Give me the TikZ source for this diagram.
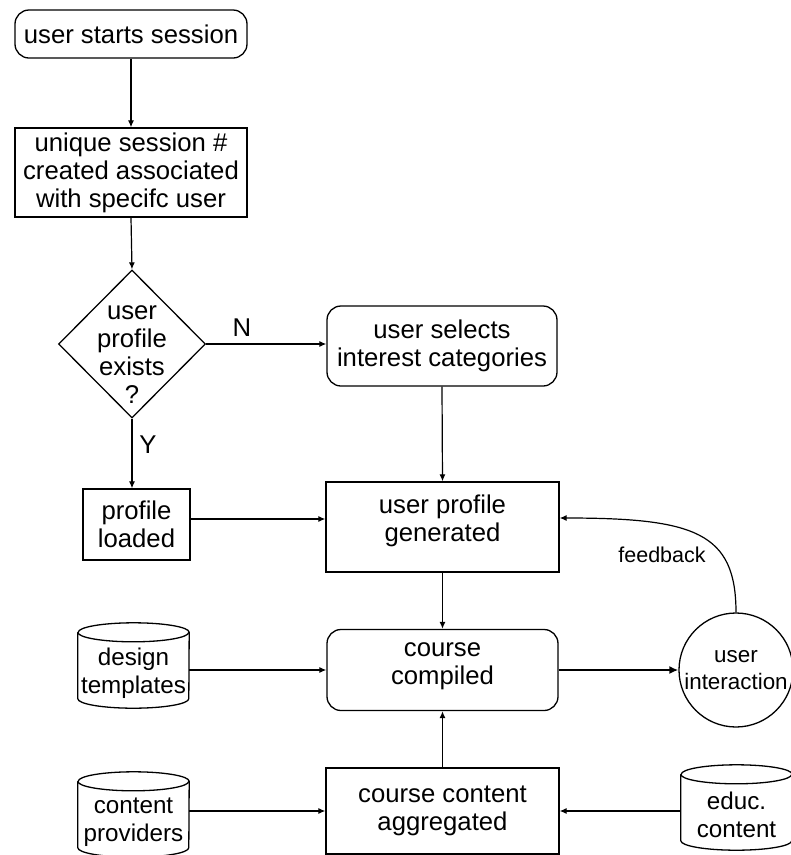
\documentclass[tikz,border=0pt]{standalone}
\usepackage{fontspec}
\setmainfont{Liberation Sans}
\usetikzlibrary{shapes.geometric,arrows.meta}

\begin{document}
\begin{tikzpicture}[x=1pt,y=-1pt,
  line/.style={draw=black,line width=1.3pt},
  txt/.style={font=\fontsize{25.7}{28}\selectfont,align=center,inner sep=0pt},
  sbox/.style={txt,line,rectangle},
  rbox/.style={txt,line,rectangle,rounded corners=14pt},
  decbox/.style={line,diamond,inner sep=0pt},
  dbbox/.style={rectangle,inner sep=0pt},
  dbtxt/.style={font=\fontsize{24.2}{28}\selectfont,align=center,inner sep=0pt},
  circtxt/.style={font=\fontsize{22.4}{27}\selectfont,align=center,inner sep=0pt},
  smalltxt/.style={font=\fontsize{21.5}{25}\selectfont,inner sep=0pt},
  arr/.style={line width=1.2pt,-{Latex[length=7pt,width=6pt]}},
  boldarr/.style={line width=2pt,-{Latex[length=9pt,width=8pt]}},
]
\useasboundingbox (0,0) rectangle (791,855);
\clip (0,0) rectangle (791,855);

% process steps
\node[rbox,minimum width=232,minimum height=48] (start) at (131,34) {user starts session};
\node[sbox,minimum width=232,minimum height=89] (sess) at (131,172.5)
  {unique session \#\\created associated\\with specifc user};
\node[decbox,minimum width=147,minimum height=148,
  label={[txt,yshift=-11pt]center:user\\profile\\exists\\?}] (dec) at (132,344) {};
\node[rbox,minimum width=230,minimum height=80] (sel) at (442,346)
  {user selects\\interest categories};
\node[sbox,minimum width=107,minimum height=71] (loaded) at (136.5,524.5) {profile\\loaded};
\node[sbox,minimum width=233,minimum height=90,
  label={[txt,yshift=6pt]center:user profile\\generated}] (gen) at (442.5,527) {};
\node[rbox,minimum width=231,minimum height=81,
  label={[txt,yshift=4pt]center:course\\compiled}] (comp) at (442.5,670) {};
\node[sbox,minimum width=233,minimum height=86] (agg) at (442.5,811)
  {course content\\aggregated};
\node[line,circle,inner sep=0pt,minimum size=114,
  label={[circtxt]center:user\\interaction}] (ui) at (736,670) {};

% data stores
\node[dbbox,minimum width=111,minimum height=85,
  label={[dbtxt,yshift=-7.5pt]center:design\\templates}] (dt) at (133.5,665.5) {};
\node[dbbox,minimum width=111,minimum height=85,
  label={[dbtxt,yshift=-7.5pt]center:content\\providers}] (cp) at (133.5,814.5) {};
\node[dbbox,minimum width=111,minimum height=85,
  label={[dbtxt,yshift=-7.5pt]center:educ.\\content}] (ec) at (736.5,807.5) {};
\foreach \c in {dt,cp,ec} {
  \draw[line] ([yshift=-9.5pt]\c.north west) -- ([yshift=9.5pt]\c.south west)
    arc[start angle=180,end angle=360,x radius=55.5pt,y radius=9.5pt]
    -- ([yshift=-9.5pt]\c.north east)
    arc[start angle=0,end angle=180,x radius=55.5pt,y radius=9.5pt];
  \draw[line] ([yshift=-9.5pt]\c.north west)
    arc[start angle=180,end angle=360,x radius=55.5pt,y radius=9.5pt];
}

% branch labels
\node[txt] (nlab) at (242,328) {N};
\node[txt] (ylab) at (148,445) {Y};
\node[smalltxt] (fblab) at (662,555) {feedback};

% connectors
\draw[arr] (start.south) -- (sess.north);
\draw[arr] (sess.south) -- (dec.north);
\draw[arr] (dec.east) -- (dec.east -| sel.west);
\draw[arr] (dec.south) -- (dec.south |- loaded.north);
\draw[arr] (sel.south) -- (gen.north);
\coordinate (lo) at ([yshift=5.5pt]loaded.east);
\draw[arr] (lo) -- (lo -| gen.west);
\draw[arr] (gen.south) -- (comp.north);
\draw[arr] (agg.north) -- (comp.south);
\draw[arr] (comp.west -| dt.east) -- (comp.west);
\draw[boldarr] (comp.east) -- (ui.west);
\draw[arr] (agg.west -| cp.east) -- (agg.west);
\draw[arr] (agg.east -| ec.west) -- (agg.east);
\coordinate (fb) at ([yshift=9pt]gen.east);
\draw[arr] (ui.north) .. controls ([yshift=80pt]ui.north) and ([xshift=135pt]fb) .. (fb);
\end{tikzpicture}
\end{document}
